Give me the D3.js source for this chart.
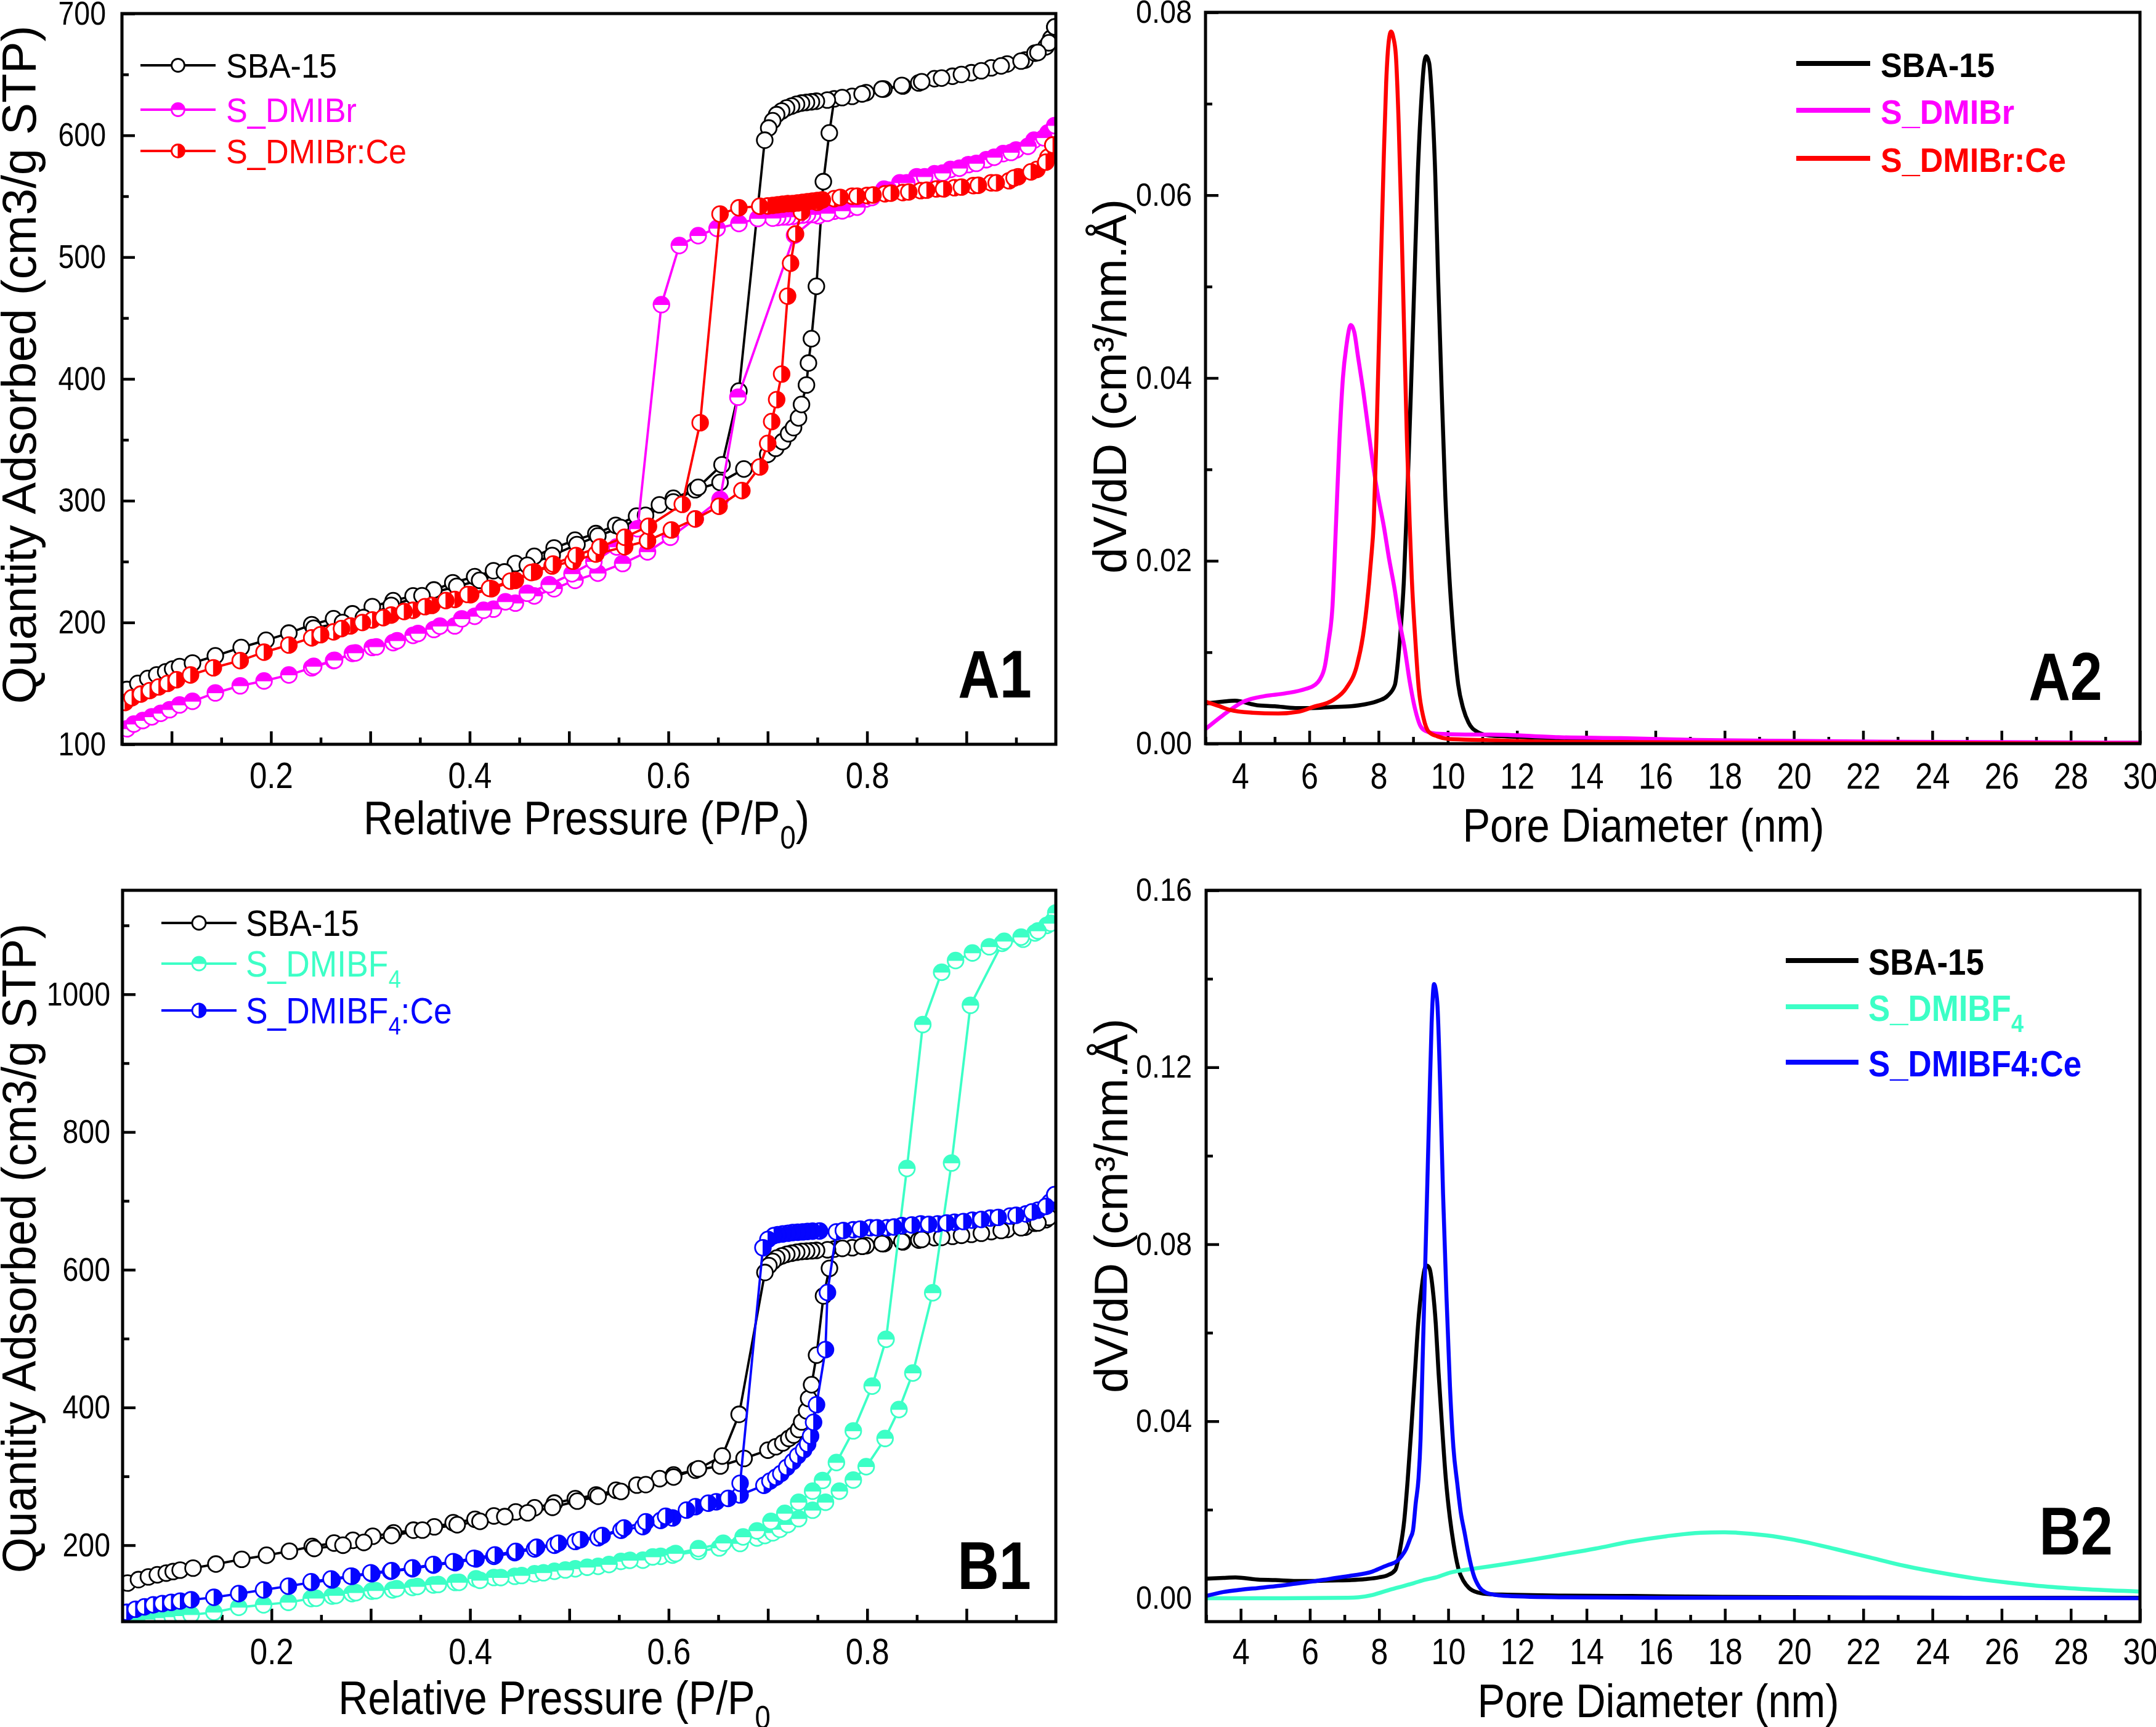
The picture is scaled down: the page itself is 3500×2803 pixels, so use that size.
<!DOCTYPE html>
<html>
<head>
<meta charset="utf-8">
<script src="https://cdn.jsdelivr.net/npm/d3@7"></script>
<style>
  body { margin: 0; background: #fff; }
  text { font-family: "Liberation Sans", Arial, sans-serif; }
</style>
</head>
<body>
<svg id="chart" width="3500" height="2803"></svg>
<script>
// isotherms: [P/P0, quantity adsorbed]
const sba15Ads = [[0.055,145],[0.066,150],[0.076,154],[0.085,157],[0.094,159.5],[0.101,161.8],[0.108,163.8],[0.121,166.7],[0.144,172.6],[0.170,179.5],[0.195,185.4],[0.218,191.3],[0.241,198.2],[0.263,203.1],[0.282,207.1],[0.302,213],[0.323,217.9],[0.343,221.8],[0.364,226.7],[0.383,232.6],[0.405,237.6],[0.424,242.5],[0.446,248.4],[0.465,254.3],[0.485,261.2],[0.506,267.6],[0.527,273],[0.547,279.8],[0.568,287.3],[0.591,296.6],[0.605,302],[0.627,309],[0.652,315],[0.676,326],[0.700,338],[0.708,343],[0.715,348.5],[0.721,355],[0.726,360],[0.731,368],[0.734,379],[0.739,395],[0.741,413],[0.744,433],[0.749,476],[0.756,562],[0.762,602],[0.767,630],[0.785,632],[0.799,635],[0.817,638],[0.836,640.5],[0.852,643],[0.868,646.5],[0.886,648.5],[0.905,651.4],[0.925,655.4],[0.941,658.6],[0.959,661.8],[0.969,667.5],[0.980,672.7],[0.985,679.6],[0.989,689]]
const sba15Des = [[0.989,689],[0.983,676],[0.972,668],[0.955,661],[0.935,657],[0.915,653],[0.895,650],[0.875,647],[0.855,644],[0.835,641],[0.815,638],[0.795,634],[0.775,631],[0.760,629],[0.749,628],[0.744,627.5],[0.739,627],[0.734,626.5],[0.729,625.5],[0.724,624],[0.719,622.5],[0.714,620],[0.709,617],[0.705,612],[0.701,606],[0.697,596],[0.671,390],[0.654,329.5],[0.630,311],[0.605,299],[0.577,288],[0.552,278],[0.529,271],[0.508,264],[0.483,255],[0.458,247],[0.435,241.5],[0.410,234.6],[0.387,229.7],[0.352,222],[0.321,214],[0.293,204],[0.272,200],[0.243,195.3]]

const dmibrAds = [[0.055,112.7],[0.062,116.6],[0.071,119.5],[0.080,122.5],[0.089,125.4],[0.098,128.4],[0.108,132.3],[0.121,135.3],[0.144,142.2],[0.169,148],[0.193,152],[0.218,156.9],[0.241,162.8],[0.263,168.7],[0.282,174.6],[0.302,179.5],[0.323,183.5],[0.343,189.4],[0.364,194.3],[0.385,197.2],[0.405,205.1],[0.424,211],[0.446,215.9],[0.465,221.8],[0.485,227.7],[0.506,234.6],[0.529,240.5],[0.554,248.4],[0.579,258],[0.602,270],[0.627,285],[0.652,301],[0.670,385],[0.727,518],[0.751,534],[0.767,537.7],[0.781,539.7],[0.799,547.8],[0.817,555.8],[0.833,561],[0.850,566],[0.868,568.5],[0.884,572],[0.902,576],[0.920,580],[0.937,585],[0.950,588],[0.968,596],[0.982,602],[0.989,608]]
const dmibrDes = [[0.989,608],[0.978,598],[0.962,591],[0.945,586],[0.928,582],[0.910,577],[0.893,573],[0.876,569],[0.858,566],[0.840,561],[0.822,555],[0.805,549],[0.790,541],[0.775,538],[0.760,536],[0.745,535],[0.740,535],[0.735,534.5],[0.730,534],[0.725,533.5],[0.720,533],[0.715,533],[0.710,532.5],[0.705,532],[0.690,531.7],[0.671,527.6],[0.649,523.6],[0.630,517.6],[0.611,509.5],[0.593,461],[0.569,277],[0.548,262],[0.525,250],[0.503,240],[0.480,231],[0.458,224],[0.436,217],[0.414,210],[0.392,203],[0.370,197],[0.348,191],[0.327,185],[0.306,180],[0.285,175],[0.264,169],[0.243,164]]

const dmibrCeAds = [[0.053,134.3],[0.060,138.2],[0.069,141.2],[0.078,144.1],[0.087,147.1],[0.096,150],[0.105,153],[0.119,156.9],[0.142,162.8],[0.169,168.7],[0.193,175.6],[0.218,181.5],[0.241,187.4],[0.263,192.3],[0.280,197.2],[0.302,202.1],[0.321,206.1],[0.343,210],[0.362,214],[0.385,218.9],[0.401,222.8],[0.422,227.7],[0.446,234.6],[0.465,241.5],[0.483,246.4],[0.504,250.3],[0.527,256.2],[0.556,262.1],[0.579,267.1],[0.603,276],[0.627,285],[0.651,295.4],[0.674,308.3],[0.692,327.7],[0.700,347],[0.704,365],[0.709,383],[0.714,404],[0.720,468],[0.723,495],[0.728,519],[0.734,537],[0.750,545],[0.767,548],[0.785,550],[0.800,550.6],[0.818,552],[0.836,553],[0.854,554.6],[0.870,556],[0.888,557],[0.907,558.7],[0.925,561],[0.943,562.7],[0.952,566],[0.971,572],[0.982,582],[0.987,592]]
const dmibrCeDes = [[0.987,592],[0.980,578],[0.965,570],[0.948,565],[0.930,561],[0.912,559],[0.895,557.5],[0.877,556],[0.860,555],[0.842,553.5],[0.824,552.5],[0.806,551],[0.790,550],[0.773,549],[0.755,547],[0.750,546.5],[0.745,546],[0.740,545.5],[0.735,545],[0.730,544.5],[0.725,544],[0.720,544],[0.715,543.5],[0.710,543],[0.705,542.5],[0.700,542],[0.692,541.8],[0.671,540.5],[0.652,535.4],[0.632,364],[0.614,297],[0.580,279],[0.556,270],[0.531,262],[0.507,255],[0.484,248],[0.462,241],[0.441,234],[0.420,228],[0.398,223],[0.376,218],[0.355,213],[0.334,209],[0.313,204],[0.292,200],[0.271,195],[0.250,190]]

const dmibf4Ads = [[0.050,86],[0.060,88.5],[0.070,90.5],[0.080,92.5],[0.090,94.5],[0.100,96],[0.110,97.5],[0.119,99],[0.142,102.6],[0.167,109.8],[0.192,113.4],[0.217,117],[0.240,122.5],[0.261,126.1],[0.281,129.7],[0.301,133.3],[0.322,135.1],[0.342,138.7],[0.363,142.3],[0.385,145.9],[0.406,151.3],[0.424,153.1],[0.445,154.9],[0.465,158.5],[0.485,162.1],[0.506,165.7],[0.529,169.3],[0.552,176.5],[0.574,178.3],[0.592,183.8],[0.604,185.6],[0.630,191],[0.651,196],[0.672,202.5],[0.689,210.5],[0.697,214],[0.705,218],[0.712,223],[0.720,230],[0.731,238.5],[0.745,250.8],[0.758,262.4],[0.772,278.5],[0.786,294.6],[0.799,314],[0.818,355],[0.832,397],[0.846,450],[0.866,566.5],[0.885,755],[0.904,984],[0.936,1074],[0.957,1080],[0.969,1089],[0.981,1100],[0.988,1108],[0.990,1118]]
const dmibf4Des = [[0.990,1118],[0.985,1103],[0.972,1092],[0.955,1083],[0.938,1077],[0.923,1069],[0.906,1060],[0.889,1049],[0.875,1032],[0.856,956],[0.840,747],[0.819,499],[0.805,431],[0.786,366],[0.769,320],[0.755,294],[0.745,278.5],[0.731,262.4],[0.717,246.3],[0.703,234.6],[0.689,220.8],[0.675,212],[0.655,203],[0.630,195],[0.607,188],[0.584,183],[0.561,178],[0.540,172],[0.518,168],[0.496,164],[0.474,160],[0.452,156],[0.431,153],[0.410,149],[0.389,146],[0.368,143],[0.347,140],[0.326,137],[0.305,134],[0.285,131],[0.265,127],[0.245,123]]

const dmibf4CeAds = [[0.054,102.6],[0.063,107],[0.072,110.5],[0.081,113.4],[0.090,115.3],[0.099,117],[0.108,118.9],[0.119,120.7],[0.142,124.3],[0.167,129.7],[0.192,135.1],[0.217,140.5],[0.240,145.9],[0.261,149.5],[0.281,154.9],[0.301,158.5],[0.320,162.1],[0.342,165.7],[0.363,171.1],[0.385,174.7],[0.406,180.1],[0.424,183.8],[0.445,189.2],[0.465,194.6],[0.485,200],[0.506,205.4],[0.529,210.8],[0.552,221.6],[0.574,227],[0.592,236],[0.604,239.6],[0.627,256],[0.648,263],[0.672,273],[0.696,287],[0.702,293],[0.708,298.6],[0.713,304],[0.719,313],[0.725,321.4],[0.730,330],[0.736,338.5],[0.740,347],[0.743,358.5],[0.746,378.5],[0.749,404],[0.758,484],[0.760,567],[0.769,655],[0.786,658],[0.803,661],[0.820,661],[0.835,664],[0.854,666.6],[0.871,666.6],[0.888,669],[0.906,672],[0.924,675],[0.944,678],[0.960,681],[0.972,686.5],[0.984,698],[0.989,709]]
const dmibf4CeDes = [[0.989,709],[0.980,692],[0.966,684],[0.950,679],[0.932,676],[0.915,673],[0.897,670],[0.880,668],[0.862,666],[0.845,665],[0.827,662],[0.810,661],[0.793,659],[0.776,657],[0.752,656.3],[0.745,656],[0.740,655.5],[0.735,655],[0.730,654.5],[0.725,654],[0.720,653],[0.715,652],[0.710,651],[0.706,649.5],[0.700,644],[0.695,632],[0.672,290],[0.660,268],[0.640,261],[0.618,251],[0.597,242],[0.577,234],[0.555,225],[0.533,214],[0.511,208],[0.489,203],[0.467,197],[0.446,191],[0.425,186],[0.404,181],[0.383,176],[0.363,172],[0.342,167],[0.321,163],[0.300,160],[0.280,155],[0.260,151],[0.240,147]]

// pore size distributions: [diameter nm, dV/dD]
const sba15Psd = [[3.0,0.0044],[3.5,0.0046],[3.85,0.0047],[4.5,0.0042],[5.0,0.0041],[5.6,0.0039],[6.1,0.0039],[6.6,0.0040],[7.2,0.0041],[7.6,0.0043],[8.0,0.0047],[8.25,0.0052],[8.47,0.0064],[8.6,0.0107],[8.73,0.0177],[8.83,0.027],[8.93,0.038],[9.03,0.050],[9.13,0.062],[9.23,0.070],[9.32,0.0745],[9.38,0.0752],[9.46,0.0745],[9.55,0.070],[9.64,0.062],[9.72,0.051],[9.82,0.039],[9.93,0.027],[10.05,0.018],[10.15,0.0125],[10.3,0.0065],[10.45,0.0038],[10.6,0.0023],[10.85,0.0013],[11.2,0.0009],[11.7,0.0008],[13.2,0.0006],[15.3,0.0005],[18,0.0003],[21,0.0002],[25,0.0001],[30,0.0001]]
const dmibrPsd = [[3.0,0.0016],[3.5,0.0031],[4.1,0.0046],[4.7,0.0052],[5.3,0.0055],[5.9,0.0060],[6.15,0.0064],[6.3,0.0070],[6.45,0.0085],[6.55,0.0110],[6.67,0.0151],[6.77,0.0240],[6.87,0.0332],[6.97,0.0400],[7.07,0.0435],[7.2,0.0458],[7.3,0.0450],[7.4,0.0425],[7.56,0.0385],[7.7,0.0345],[7.86,0.0300],[8.0,0.0268],[8.16,0.0236],[8.3,0.0203],[8.46,0.0170],[8.6,0.0135],[8.76,0.0103],[8.9,0.0068],[9.06,0.0037],[9.2,0.0020],[9.35,0.0014],[9.65,0.0011],[10.5,0.0010],[11.24,0.0010],[13.2,0.0007],[15,0.0006],[17.2,0.0004],[20,0.0003],[23.2,0.0002],[30,0.0001]]
const dmibrCePsd = [[3.0,0.0046],[3.4,0.0041],[3.7,0.0037],[4.3,0.0034],[5.1,0.0033],[5.7,0.0035],[6.1,0.0040],[6.7,0.0048],[7.07,0.0061],[7.37,0.0085],[7.55,0.0118],[7.66,0.0151],[7.78,0.0200],[7.86,0.0242],[7.95,0.0350],[8.06,0.0513],[8.15,0.0640],[8.22,0.0723],[8.3,0.0770],[8.36,0.0779],[8.43,0.0772],[8.5,0.0753],[8.58,0.0680],[8.66,0.0573],[8.74,0.0450],[8.82,0.0332],[8.9,0.0240],[8.96,0.0181],[9.06,0.0115],[9.16,0.0061],[9.3,0.0028],[9.45,0.0013],[9.7,0.0008],[10.05,0.0005],[11,0.0004],[13.2,0.0002],[20,0.0001],[30,0.0000]]
const dmibf4Psd = [[3,0.0000],[5,0.0000],[7.1,0.0001],[7.4,0.0002],[7.8,0.0007],[8.1,0.0014],[8.4,0.0021],[8.73,0.0028],[9.0,0.0034],[9.34,0.0042],[9.65,0.0047],[10.06,0.0058],[10.4,0.0063],[10.67,0.0066],[11.2,0.0072],[11.7,0.0078],[12.5,0.0088],[13.23,0.0098],[14.25,0.0112],[15.28,0.0128],[16.3,0.0140],[17.3,0.0148],[18.0,0.0149],[18.35,0.0148],[19.2,0.0142],[20,0.0132],[21.2,0.0111],[22.2,0.0092],[23.2,0.0073],[24.2,0.0058],[25.2,0.0045],[26.2,0.0035],[27.2,0.0027],[28.5,0.0020],[30,0.0015]]
const dmibf4CePsd = [[3.0,0.0005],[3.5,0.0014],[4.0,0.0019],[4.5,0.0023],[5.0,0.0027],[5.6,0.0033],[6.1,0.0038],[6.6,0.0044],[7.2,0.0051],[7.8,0.0060],[8.1,0.0070],[8.3,0.0076],[8.52,0.0084],[8.65,0.0095],[8.78,0.0111],[8.9,0.0135],[8.98,0.0153],[9.06,0.0215],[9.14,0.0270],[9.2,0.0360],[9.26,0.0540],[9.35,0.0800],[9.45,0.1101],[9.52,0.1300],[9.59,0.1388],[9.64,0.1375],[9.69,0.1338],[9.77,0.1150],[9.85,0.0914],[9.95,0.0680],[10.05,0.0478],[10.15,0.0340],[10.26,0.0260],[10.36,0.0195],[10.47,0.0149],[10.6,0.0095],[10.72,0.0056],[10.9,0.0025],[11.08,0.0013],[11.4,0.0007],[11.7,0.0005],[13.2,0.0002],[16,0.0001],[20,0.0001],[30,0.0000]]

const black = '#000000', magenta = '#ff00ff', red = '#ff0000', mint = '#3cffc6', blue = '#0505ff'

let svg = d3.select('#chart')

let halfPath = {
  top: r => `M${-r},0A${r},${r} 0 0 1 ${r},0Z`,
  right: r => `M0,${-r}A${r},${r} 0 0 1 0,${r}Z`
}

let drawMarker = (sel, color, half, r) => {
  sel.append('circle').attr('r', r).attr('fill', '#fff')
     .attr('stroke', color).attr('stroke-width', 2.8)
  if (half) {
    sel.append('path').attr('d', halfPath[half](r)).attr('fill', color)
       .attr('stroke', color).attr('stroke-width', 1)
  }
}

let addText = (x, y, parts, o) => {
  let t = svg.append('text')
    .attr('transform', `translate(${x},${y})` + (o.rotate ? ' rotate(-90)' : '') + ` scale(${o.sx || 1},1)`)
    .attr('font-size', o.size)
    .attr('font-weight', o.bold ? 'bold' : 'normal')
    .attr('fill', o.color || '#000')
    .attr('text-anchor', o.anchor || 'start')
  let shift = 0
  parts.forEach(p => {
    let s = t.append('tspan').text(p.t)
    if (p.sub) {
      s.attr('font-size', o.size * 0.68).attr('dy', o.size * 0.3 - shift)
      shift = o.size * 0.3
    } else if (shift) {
      s.attr('dy', -shift)
      shift = 0
    }
  })
  return t
}

let makePanel = (p) => {
  let x = d3.scaleLinear().domain(p.xDomain).range([p.left, p.right])
  let y = d3.scaleLinear().domain(p.yDomain).range([p.bottom, p.top])
  let g = svg.append('g')

  svg.append('clipPath').attr('id', 'clip' + p.name).append('rect')
     .attr('x', p.left).attr('y', p.top)
     .attr('width', p.right - p.left).attr('height', p.bottom - p.top)

  g.append('g').attr('transform', `translate(0,${p.bottom})`)
   .call(d3.axisBottom(x).tickValues(p.xMinor).tickSize(-11).tickFormat(''))
  g.append('g').attr('transform', `translate(${p.left},0)`)
   .call(d3.axisLeft(y).tickValues(p.yMinor).tickSize(-11).tickFormat(''))

  let xa = g.append('g').attr('transform', `translate(0,${p.bottom})`)
    .call(d3.axisBottom(x).tickValues(p.xMajor).tickSize(-21).tickPadding(p.xPad).tickFormat(p.xFormat))
  let ya = g.append('g').attr('transform', `translate(${p.left},0)`)
    .call(d3.axisLeft(y).tickValues(p.yMajor).tickSize(-21).tickPadding(p.yPad / p.ySx).tickFormat(p.yFormat))

  g.selectAll('.domain').remove()
  g.selectAll('.tick line').attr('stroke', '#000').attr('stroke-width', 4.5)
  xa.selectAll('text').attr('font-size', p.xFont).attr('font-family', '"Liberation Sans", Arial, sans-serif')
    .attr('fill', '#000').attr('transform', `scale(${p.xSx},1)`)
  ya.selectAll('text').attr('font-size', p.yFont).attr('font-family', '"Liberation Sans", Arial, sans-serif')
    .attr('fill', '#000').attr('transform', `scale(${p.ySx},1)`)

  let plot = svg.append('g').attr('clip-path', `url(#clip${p.name})`)
  return { x, y, plot }
}

let drawFrame = (p) => {
  svg.append('rect').attr('x', p.left).attr('y', p.top)
     .attr('width', p.right - p.left).attr('height', p.bottom - p.top)
     .attr('fill', 'none').attr('stroke', '#000').attr('stroke-width', 5)
}

let drawIsotherm = (ax, ads, des, color, half) => {
  let line = d3.line().x(d => ax.x(d[0])).y(d => ax.y(d[1]))
  ;[ads, des].forEach(s => {
    ax.plot.append('path').datum(s).attr('d', line)
      .attr('fill', 'none').attr('stroke', color).attr('stroke-width', 3.8)
  })
  ;[ads, des].forEach(s => {
    ax.plot.append('g').selectAll('g').data(s).join('g')
      .attr('transform', d => `translate(${ax.x(d[0])},${ax.y(d[1])})`)
      .each(function () { drawMarker(d3.select(this), color, half, 12.8) })
  })
}

let drawPsd = (ax, data, color) => {
  let line = d3.line().x(d => ax.x(d[0])).y(d => ax.y(d[1])).curve(d3.curveMonotoneX)
  ax.plot.append('path').datum(data).attr('d', line)
    .attr('fill', 'none').attr('stroke', color).attr('stroke-width', 6.5)
    .attr('stroke-linejoin', 'round')
}

let isoLegend = (lg, items) => {
  items.forEach(it => {
    svg.append('line').attr('x1', lg.x1).attr('x2', lg.x2).attr('y1', it.y).attr('y2', it.y)
       .attr('stroke', it.color).attr('stroke-width', 4)
    let m = svg.append('g').attr('transform', `translate(${(lg.x1 + lg.x2) / 2},${it.y})`)
    drawMarker(m, it.color, it.half, lg.r)
    addText(lg.tx, it.y + lg.base, it.label, { size: lg.size, sx: lg.sx, color: it.color })
  })
}

let psdLegend = (lg, items) => {
  items.forEach(it => {
    svg.append('line').attr('x1', lg.x1).attr('x2', lg.x2).attr('y1', it.y).attr('y2', it.y)
       .attr('stroke', it.color).attr('stroke-width', 8)
    addText(lg.tx, it.y + lg.base, it.label, { size: lg.size, sx: lg.sx, color: it.color, bold: true })
  })
}

let pFormat = d => Math.round(d * 10) % 2 === 0 ? d3.format('.1f')(d) : ''

let pA1 = { name: 'A1', left: 198, right: 1714, top: 22, bottom: 1208,
  xDomain: [0.05, 0.99], yDomain: [100, 700],
  xMajor: d3.range(1, 10).map(i => i / 10), xMinor: d3.range(0, 10).map(i => i / 10 + 0.05), xFormat: pFormat,
  yMajor: d3.range(100, 701, 100), yMinor: d3.range(150, 700, 100), yFormat: d3.format('d'),
  xFont: 60, xSx: 0.85, xPad: 28, yFont: 54, ySx: 0.86, yPad: 26 }
let pB1 = { name: 'B1', left: 199, right: 1714, top: 1445, bottom: 2632,
  xDomain: [0.05, 0.99], yDomain: [89, 1151],
  xMajor: d3.range(1, 10).map(i => i / 10), xMinor: d3.range(0, 10).map(i => i / 10 + 0.05), xFormat: pFormat,
  yMajor: d3.range(200, 1001, 200), yMinor: d3.range(100, 1101, 200), yFormat: d3.format('d'),
  xFont: 60, xSx: 0.85, xPad: 26, yFont: 54, ySx: 0.86, yPad: 20 }
let pA2 = { name: 'A2', left: 1957, right: 3474, top: 20, bottom: 1207,
  xDomain: [3, 30], yDomain: [0, 0.08],
  xMajor: d3.range(4, 31, 2), xMinor: d3.range(3, 30, 2), xFormat: d3.format('d'),
  yMajor: [0, 0.02, 0.04, 0.06, 0.08], yMinor: [0.01, 0.03, 0.05, 0.07], yFormat: d3.format('.2f'),
  xFont: 60, xSx: 0.84, xPad: 30, yFont: 52, ySx: 0.9, yPad: 22 }
let pB2 = { name: 'B2', left: 1958, right: 3474, top: 1445, bottom: 2632,
  xDomain: [3, 30], yDomain: [-0.0053, 0.16],
  xMajor: d3.range(4, 31, 2), xMinor: d3.range(3, 30, 2), xFormat: d3.format('d'),
  yMajor: [0, 0.04, 0.08, 0.12, 0.16], yMinor: [0.02, 0.06, 0.10, 0.14], yFormat: d3.format('.2f'),
  xFont: 60, xSx: 0.84, xPad: 26, yFont: 52, ySx: 0.9, yPad: 23 }

// A1
let a1 = makePanel(pA1)
drawIsotherm(a1, sba15Ads, sba15Des, black, null)
drawIsotherm(a1, dmibrAds, dmibrDes, magenta, 'top')
drawIsotherm(a1, dmibrCeAds, dmibrCeDes, red, 'right')
drawFrame(pA1)
isoLegend({ x1: 228, x2: 350, tx: 367, r: 10.5, size: 55, sx: 0.95, base: 20 }, [
  { y: 106, color: black, half: null, label: [{ t: 'SBA-15' }] },
  { y: 178, color: magenta, half: 'top', label: [{ t: 'S_DMIBr' }] },
  { y: 245, color: red, half: 'right', label: [{ t: 'S_DMIBr:Ce' }] }
])

// B1
let b1 = makePanel(pB1)
drawIsotherm(b1, sba15Ads, sba15Des, black, null)
drawIsotherm(b1, dmibf4Ads, dmibf4Des, mint, 'top')
drawIsotherm(b1, dmibf4CeAds, dmibf4CeDes, blue, 'right')
drawFrame(pB1)
isoLegend({ x1: 262, x2: 384, tx: 399, r: 11, size: 60, sx: 0.89, base: 21 }, [
  { y: 1498, color: black, half: null, label: [{ t: 'SBA-15' }] },
  { y: 1564, color: mint, half: 'top', label: [{ t: 'S_DMIBF' }, { t: '4', sub: true }] },
  { y: 1640, color: blue, half: 'right', label: [{ t: 'S_DMIBF' }, { t: '4', sub: true }, { t: ':Ce' }] }
])

// A2
let a2 = makePanel(pA2)
drawPsd(a2, sba15Psd, black)
drawPsd(a2, dmibrPsd, magenta)
drawPsd(a2, dmibrCePsd, red)
drawFrame(pA2)
psdLegend({ x1: 2916, x2: 3036, tx: 3053, size: 56, sx: 0.93, base: 22 }, [
  { y: 103, color: black, label: [{ t: 'SBA-15' }] },
  { y: 179, color: magenta, label: [{ t: 'S_DMIBr' }] },
  { y: 257, color: red, label: [{ t: 'S_DMIBr:Ce' }] }
])

// B2
let b2 = makePanel(pB2)
drawPsd(b2, sba15Psd, black)
drawPsd(b2, dmibf4Psd, mint)
drawPsd(b2, dmibf4CePsd, blue)
drawFrame(pB2)
psdLegend({ x1: 2899, x2: 3017, tx: 3033, size: 60, sx: 0.88, base: 23 }, [
  { y: 1559, color: black, label: [{ t: 'SBA-15' }] },
  { y: 1634, color: mint, label: [{ t: 'S_DMIBF' }, { t: '4', sub: true }] },
  { y: 1724, color: blue, label: [{ t: 'S_DMIBF4:Ce' }] }
])

// axis titles
let dTitle = [{ t: 'Pore Diameter (nm)' }]
let qTitle = [{ t: 'Quantity Adsorbed (cm3/g STP)' }]
let vTitle = [{ t: 'dV/dD  (cm\u00b3/nm.\u00c5)' }]
addText(952, 1354, [{ t: 'Relative Pressure (P/P' }, { t: '0', sub: true }, { t: ')' }], { size: 76, sx: 0.88, anchor: 'middle' })
addText(900, 2782, [{ t: 'Relative Pressure (P/P' }, { t: '0', sub: true }], { size: 76, sx: 0.88, anchor: 'middle' })
addText(2668, 1366, dTitle, { size: 76, sx: 0.88, anchor: 'middle' })
addText(2692, 2787, dTitle, { size: 76, sx: 0.88, anchor: 'middle' })
addText(58, 592, qTitle, { size: 78, anchor: 'middle', rotate: true })
addText(58, 2026, qTitle, { size: 77, sx: 0.97, anchor: 'middle', rotate: true })
addText(1828, 627, vTitle, { size: 76, anchor: 'middle', rotate: true })
addText(1830, 1957, vTitle, { size: 76, anchor: 'middle', rotate: true })

// panel tags
addText(1675, 1132, [{ t: 'A1' }], { size: 109, sx: 0.86, bold: true, anchor: 'end' })
addText(3413, 1136, [{ t: 'A2' }], { size: 109, sx: 0.86, bold: true, anchor: 'end' })
addText(1674, 2579, [{ t: 'B1' }], { size: 109, sx: 0.86, bold: true, anchor: 'end' })
addText(3430, 2523, [{ t: 'B2' }], { size: 109, sx: 0.86, bold: true, anchor: 'end' })
</script>
</body>
</html>
